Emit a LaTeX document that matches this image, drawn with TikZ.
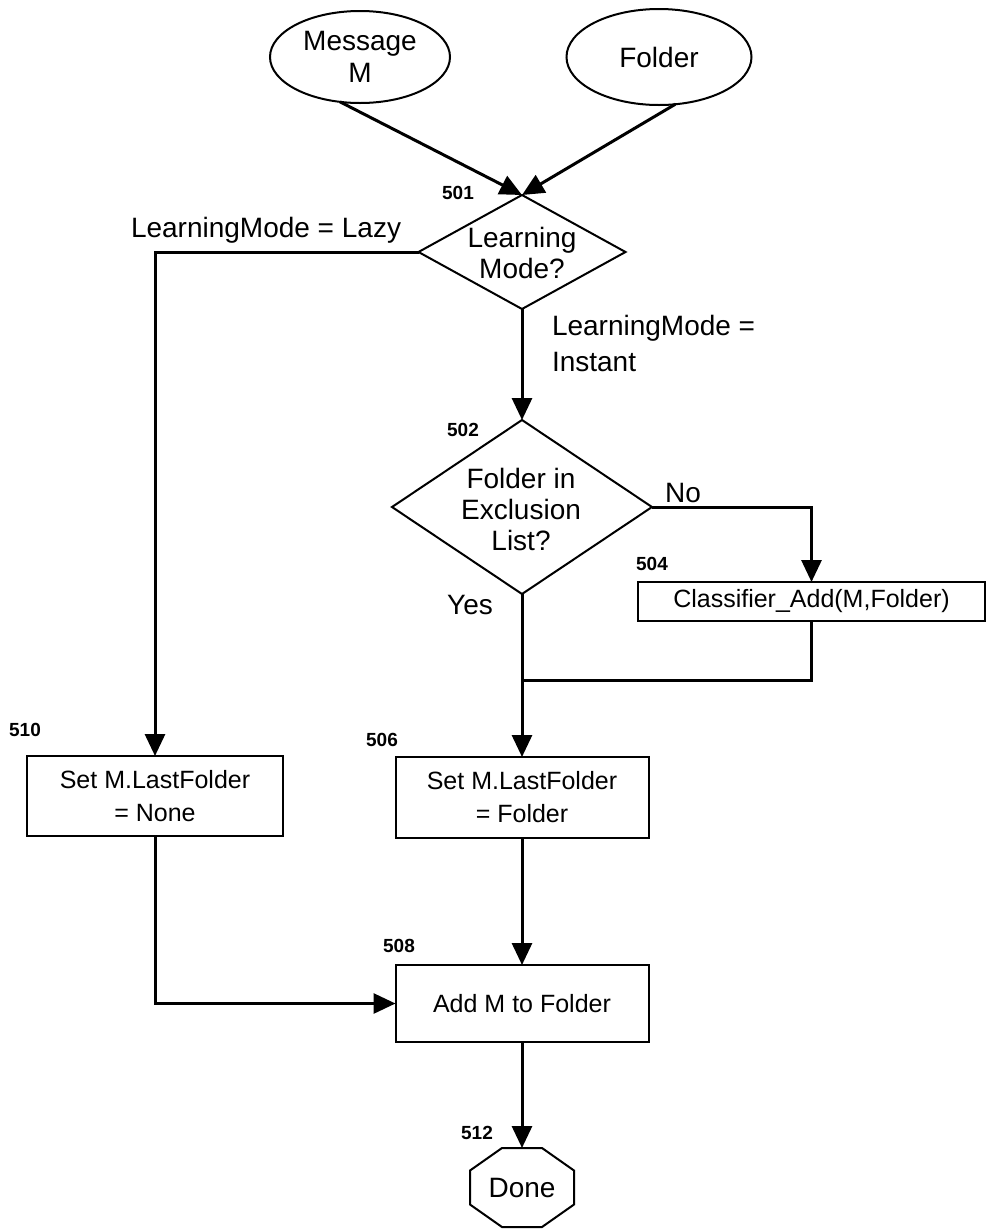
\documentclass[tikz,border=0pt]{standalone}
\usepackage{fontspec}
\setmainfont{Liberation Sans}
\usetikzlibrary{shapes.geometric,arrows.meta,calc}
\begin{document}
\begin{tikzpicture}[x=1bp,y=-1bp,
  every node/.style={inner sep=0pt, outer sep=0pt},
  lbl/.style={font=\fontsize{28bp}{31bp}\selectfont, align=center},
  num/.style={font=\fontsize{19bp}{20bp}\selectfont\bfseries},
  oval/.style={draw, ellipse, line width=2bp, font=\fontsize{28bp}{32bp}\selectfont, align=center},
  dia/.style={draw, diamond, line width=2bp},
  box/.style={draw, rectangle, line width=2bp, font=\fontsize{25bp}{33bp}\selectfont, align=center},
  conn/.style={line width=3bp, -{Triangle[length=22bp,width=20bp]}},
  link/.style={line width=3bp}
]
\fill[white] (0,0) rectangle (987,1230);
\useasboundingbox (0,0) rectangle (987,1230);

% shapes
\node[oval, minimum width=180bp, minimum height=92bp] (msg) at (360,57) {Message\\M};
\node[oval, minimum width=185bp, minimum height=96bp] (fold) at (659,57) {Folder};

\node[dia, minimum width=207bp, minimum height=114bp] (d501) at (522,252) {};
\node[lbl] (t501) at (522,253) {Learning\\Mode?};

\node[dia, minimum width=260bp, minimum height=174bp] (d502) at (522,507) {};
\node[lbl] (t502) at (521,509) {Folder in\\Exclusion\\List?};

\node[box, minimum width=347bp, minimum height=39bp] (b504) at (811.5,601.5) {Classifier\_Add(M,Folder)};
\node[box, minimum width=253bp, minimum height=81bp] (b506) at (522,797.5) {Set M.LastFolder\\= Folder};
\node[box, minimum width=256bp, minimum height=80bp] (b510) at (155,796) {Set M.LastFolder\\= None};
\node[box, minimum width=253bp, minimum height=77bp] (b508) at (522,1003.5) {Add M to Folder};

\node[lbl, minimum width=104bp, minimum height=79bp] (done) at (522,1187.5) {Done};
\draw[line width=2bp] ($(done.north west)+(32,0)$) -- ($(done.north east)+(-32,0)$)
  -- ($(done.north east)+(0,22.5)$) -- ($(done.south east)+(0,-22.5)$)
  -- ($(done.south east)+(-32,0)$) -- ($(done.south west)+(32,0)$)
  -- ($(done.south west)+(0,-22.5)$) -- ($(done.north west)+(0,22.5)$) -- cycle;

% reference numbers
\node[num] (n501) at (458,193) {501};
\node[num] (n502) at (463,430) {502};
\node[num] (n504) at (652,564) {504};
\node[num] (n506) at (382,740) {506};
\node[num] (n508) at (399,946) {508};
\node[num] (n510) at (25,730) {510};
\node[num] (n512) at (477,1133) {512};

% branch labels
\node[lbl, anchor=base west] (lazy) at (131,237) {LearningMode = Lazy};
\node[lbl, anchor=north west, align=left, font=\fontsize{28bp}{36bp}\selectfont] (inst) at (552,315) {LearningMode =\\Instant};
\node[lbl] (yes) at (470,605) {Yes};
\node[lbl] (no) at (683,493) {No};

% connectors
\draw[conn] (msg.-114) -- (d501.north);
\draw[conn] (fold.-71) -- (d501.north);
\draw[conn] (d501.west) -| (b510.north);
\draw[conn] (d501.south) -- (d502.north);
\draw[conn] (d502.east) -| (b504.north);
\draw[conn] (d502.south) -- (b506.north);
\coordinate (join) at (b506.north |- 0,680);
\draw[link] (b504.south) |- (join);
\draw[conn] (b506.south) -- (b508.north);
\draw[conn] (b510.south) |- (b508.west);
\draw[conn] (b508.south) -- (done.north);
\end{tikzpicture}
\end{document}
